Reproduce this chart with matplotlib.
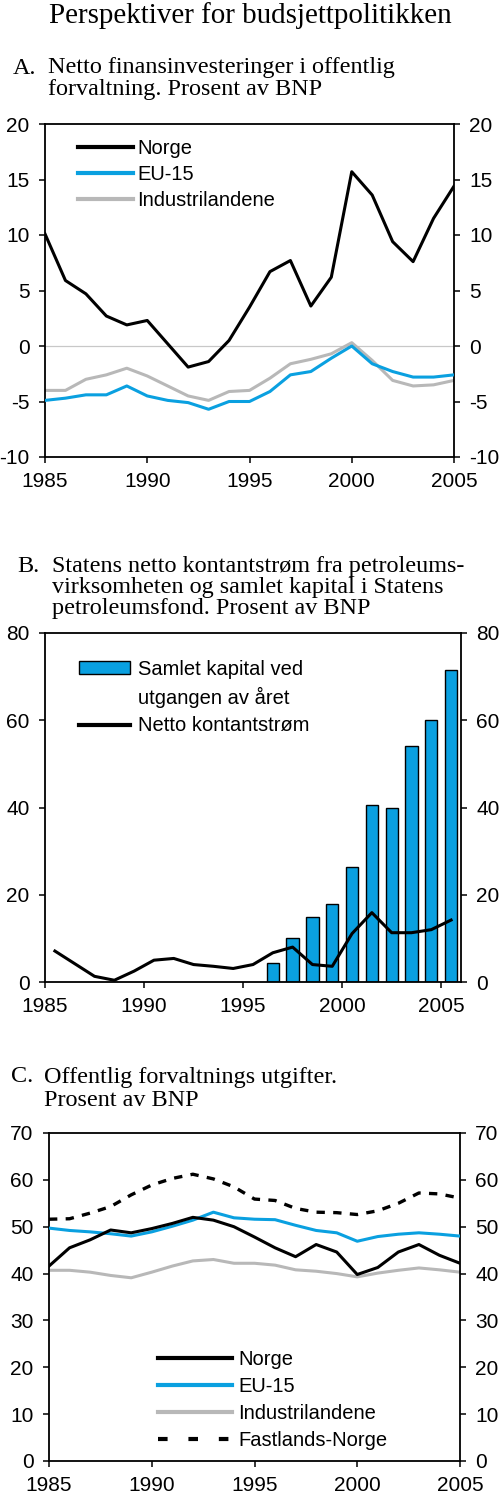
import matplotlib
matplotlib.use("Agg")
import matplotlib.pyplot as plt
from matplotlib.patches import Patch
from matplotlib.lines import Line2D

plt.rcParams['axes.unicode_minus'] = False
plt.rcParams['font.family'] = ['Liberation Sans', 'DejaVu Sans']

years = list(range(1985, 2006))

# Panel A: Netto finansinvesteringer
a_norge = [10.1, 5.9, 4.7, 2.7, 1.9, 2.3, 0.2, -1.9, -1.4, 0.5, 3.5, 6.7, 7.7, 3.6, 6.2, 15.7, 13.6, 9.4, 7.6, 11.5, 14.4]
a_eu15 = [-4.9, -4.7, -4.4, -4.4, -3.6, -4.5, -4.9, -5.1, -5.7, -5.0, -5.0, -4.1, -2.6, -2.3, -1.1, 0.0, -1.6, -2.3, -2.8, -2.8, -2.6]
a_ind = [-4.0, -4.0, -3.0, -2.6, -2.0, -2.7, -3.6, -4.5, -4.9, -4.1, -4.0, -2.9, -1.6, -1.2, -0.7, 0.3, -1.3, -3.1, -3.6, -3.5, -3.1]

# Panel B: Kontantstrøm og kapital
b_bar_years = list(range(1996, 2006))
b_kapital = [4.4, 10.2, 14.8, 17.8, 26.3, 40.6, 40.0, 54.2, 60.1, 71.6]
b_netto = [7.1, 4.2, 1.3, 0.4, 2.5, 5.0, 5.4, 4.0, 3.6, 3.1, 4.0, 6.7, 8.0, 4.0, 3.6, 11.1, 15.9, 11.3, 11.3, 12.0, 14.2]

# Panel C: Offentlig forvaltnings utgifter
c_norge = [41.6, 45.5, 47.2, 49.3, 48.7, 49.6, 50.7, 52.0, 51.4, 50.0, 47.8, 45.5, 43.6, 46.2, 44.6, 39.8, 41.3, 44.6, 46.2, 43.9, 42.2]
c_eu15 = [49.7, 49.2, 48.9, 48.5, 48.0, 48.9, 50.1, 51.4, 53.1, 51.9, 51.6, 51.5, 50.3, 49.2, 48.7, 46.9, 47.9, 48.4, 48.7, 48.4, 48.0]
c_ind = [40.7, 40.7, 40.3, 39.6, 39.1, 40.3, 41.6, 42.7, 43.0, 42.2, 42.2, 41.8, 40.8, 40.5, 40.0, 39.3, 40.1, 40.7, 41.2, 40.8, 40.3]
c_fast = [51.6, 51.7, 52.9, 54.3, 56.8, 58.9, 60.3, 61.2, 60.2, 58.5, 55.9, 55.6, 53.9, 53.1, 53.0, 52.6, 53.4, 55.0, 57.2, 57.0, 56.1]

xticks = [1985, 1990, 1995, 2000, 2005]

BLUE = '#0aa0e0'
GRAY = '#b8b8b8'
W, H = 500, 1502
serif = ['Liberation Serif', 'DejaVu Serif']
TFS = 17.4
TICKFS = 15
LFS = 14.5

fig = plt.figure(figsize=(W / 100, H / 100), dpi=100)


def add_ax(left, right, top, bottom):
    return fig.add_axes([left / W, 1 - bottom / H, (right - left) / W, (bottom - top) / H])


def style(ax, ylim, yticks):
    ax.set_ylim(*ylim)
    ax.set_yticks(yticks)
    ax.set_xticks(xticks)
    ax.set_xticklabels([str(t) for t in xticks])
    for s in ax.spines.values():
        s.set_linewidth(1.3)
        s.set_color('black')
    ax.tick_params(axis='y', which='both', direction='out', length=4, width=1.1,
                   left=True, right=True, labelleft=True, labelright=True,
                   labelsize=TICKFS, pad=7)
    ax.tick_params(axis='x', direction='out', length=4, width=1.1, labelsize=TICKFS, pad=7)


# Titles
fig.text(250 / W, 1 - 16 / H, 'Perspektiver for budsjettpolitikken', family=serif,
         fontsize=20.9, ha='center', va='center')


def panel_title(letter, lines, y0, xl, xt, step):
    fig.text(xl / W, 1 - y0 / H, letter, family=serif, fontsize=TFS, ha='left', va='center')
    for i, ln in enumerate(lines):
        fig.text(xt / W, 1 - (y0 + i * step) / H, ln, family=serif, fontsize=TFS, ha='left', va='center')


panel_title('A.', ['Netto finansinvesteringer i offentlig', 'forvaltning. Prosent av BNP'], 68, 13, 48, 22)
panel_title('B.', ['Statens netto kontantstrøm fra petroleums-', 'virksomheten og samlet kapital i Statens',
                   'petroleumsfond. Prosent av BNP'], 567, 17, 52, 20.5)
panel_title('C.', ['Offentlig forvaltnings utgifter.', 'Prosent av BNP'], 1077, 11, 44, 23)

# Panel A
axA = add_ax(45, 454, 124, 457)
axA.axhline(0, color='#c8c8c8', lw=0.9, zorder=1)
axA.plot(years, a_ind, color=GRAY, lw=2.2, zorder=2)
axA.plot(years, a_eu15, color=BLUE, lw=2.2, zorder=3)
axA.plot(years, a_norge, color='black', lw=2.2, zorder=4)
axA.set_xlim(1985, 2005)
style(axA, (-10, 20), [-10, -5, 0, 5, 10, 15, 20])
hA = [Line2D([], [], color='black', lw=3),
      Line2D([], [], color=BLUE, lw=3),
      Line2D([], [], color=GRAY, lw=3)]
axA.legend(hA, ['Norge', 'EU-15', 'Industrilandene'], loc='upper left',
           bbox_to_anchor=(0.081, 0.955), frameon=False, fontsize=LFS,
           handlelength=2.7, handletextpad=0.25, labelspacing=0.35,
           borderaxespad=0, borderpad=0)

# Panel B
axB = add_ax(45, 461, 633, 982)
axB.bar([y + 0.5 for y in b_bar_years], b_kapital, width=0.62, color=BLUE,
        edgecolor='black', linewidth=1.0, zorder=2)
axB.plot([y + 0.5 for y in years], b_netto, color='black', lw=2.2, zorder=3)
axB.set_xlim(1985, 2006)
style(axB, (0, 80), [0, 20, 40, 60, 80])
hB = [Patch(facecolor=BLUE, edgecolor='black', linewidth=1.0),
      Line2D([], [], color='none', lw=0),
      Line2D([], [], color='black', lw=3)]
axB.legend(hB, ['Samlet kapital ved', 'utgangen av året', 'Netto kontantstrøm'], loc='upper left',
           bbox_to_anchor=(0.082, 0.923), frameon=False, fontsize=LFS,
           handlelength=2.55, handleheight=0.6, handletextpad=0.35, labelspacing=0.41,
           borderaxespad=0, borderpad=0)

# Panel C
axC = add_ax(49, 460, 1133, 1461)
axC.plot(years, c_ind, color=GRAY, lw=2.2, zorder=2)
axC.plot(years, c_eu15, color=BLUE, lw=2.2, zorder=3)
axC.plot(years, c_norge, color='black', lw=2.2, zorder=4)
axC.plot(years, c_fast, color='black', lw=2.4, ls=(0, (2.5, 2.5)), zorder=4)
axC.set_xlim(1985, 2005)
style(axC, (0, 70), [0, 10, 20, 30, 40, 50, 60, 70])
hC = [Line2D([], [], color='black', lw=3),
      Line2D([], [], color=BLUE, lw=3),
      Line2D([], [], color=GRAY, lw=3),
      Line2D([], [], color='black', lw=3, ls=(0, (2.3, 5.0)))]
axC.legend(hC, ['Norge', 'EU-15', 'Industrilandene', 'Fastlands-Norge'], loc='upper left',
           bbox_to_anchor=(0.265, 0.338), frameon=False, fontsize=LFS,
           handlelength=3.7, handletextpad=0.3, labelspacing=0.4,
           borderaxespad=0, borderpad=0)

fig.savefig('out.png', dpi=100)
